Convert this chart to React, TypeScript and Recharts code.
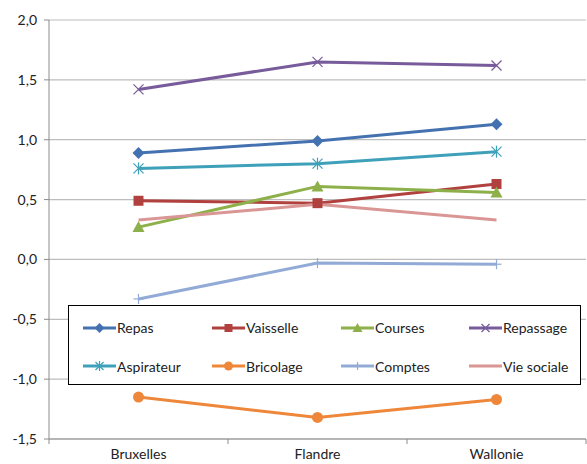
import React from 'react';
import { CartesianGrid, Line, LineChart, XAxis, YAxis } from 'recharts';

document.body.style.margin = '0';

const regions = ['Bruxelles', 'Flandre', 'Wallonie'];
const repas = [0.89, 0.99, 1.13];
const vaisselle = [0.49, 0.47, 0.63];
const courses = [0.27, 0.61, 0.56];
const repassage = [1.42, 1.65, 1.62];
const aspirateur = [0.76, 0.8, 0.9];
const bricolage = [-1.15, -1.32, -1.17];
const comptes = [-0.33, -0.03, -0.04];
const vieSociale = [0.33, 0.46, 0.33];
const yTicks = [-1.5, -1, -0.5, 0, 0.5, 1, 1.5, 2];

const FONT = 'Lato, "Open Sans", sans-serif';
const HALF_BAND = 89.5;

type Shape = 'diamond' | 'square' | 'triangle' | 'x' | 'star' | 'circle' | 'plus' | 'none';

const series: { key: string; name: string; color: string; shape: Shape; values: number[] }[] = [
  { key: 'repas', name: 'Repas', color: '#4472B0', shape: 'diamond', values: repas },
  { key: 'vaisselle', name: 'Vaisselle', color: '#B0413E', shape: 'square', values: vaisselle },
  { key: 'courses', name: 'Courses', color: '#8DB04A', shape: 'triangle', values: courses },
  { key: 'repassage', name: 'Repassage', color: '#775B9A', shape: 'x', values: repassage },
  { key: 'aspirateur', name: 'Aspirateur', color: '#3FA0BA', shape: 'star', values: aspirateur },
  { key: 'bricolage', name: 'Bricolage', color: '#EE8739', shape: 'circle', values: bricolage },
  { key: 'comptes', name: 'Comptes', color: '#92ABD6', shape: 'plus', values: comptes },
  { key: 'vieSociale', name: 'Vie sociale', color: '#D99694', shape: 'none', values: vieSociale },
];

const data = regions.map((r, i) => {
  const row: Record<string, string | number> = { region: r };
  series.forEach((s) => (row[s.key] = s.values[i]));
  return row;
});

function Marker({ shape, color, cx, cy, r = 5 }: { shape: Shape; color: string; cx: number; cy: number; r?: number }) {
  switch (shape) {
    case 'diamond':
      return <polygon points={`${cx},${cy - r - 1} ${cx + r + 1},${cy} ${cx},${cy + r + 1} ${cx - r - 1},${cy}`} fill={color} />;
    case 'square':
      return <rect x={cx - r} y={cy - r} width={r * 2} height={r * 2} fill={color} />;
    case 'triangle':
      return <polygon points={`${cx},${cy - r - 1} ${cx + r + 1},${cy + r} ${cx - r - 1},${cy + r}`} fill={color} />;
    case 'x':
      return (
        <g stroke={color} strokeWidth={1.2}>
          <line x1={cx - r} y1={cy - r} x2={cx + r} y2={cy + r} />
          <line x1={cx - r} y1={cy + r} x2={cx + r} y2={cy - r} />
        </g>
      );
    case 'star':
      return (
        <g stroke={color} strokeWidth={1.2}>
          <line x1={cx - r} y1={cy - r} x2={cx + r} y2={cy + r} />
          <line x1={cx - r} y1={cy + r} x2={cx + r} y2={cy - r} />
          <line x1={cx} y1={cy - r - 1} x2={cx} y2={cy + r + 1} />
        </g>
      );
    case 'circle':
      return <circle cx={cx} cy={cy} r={r + 0.5} fill={color} />;
    case 'plus':
      return (
        <g stroke={color} strokeWidth={1.2}>
          <line x1={cx - r} y1={cy} x2={cx + r} y2={cy} />
          <line x1={cx} y1={cy - r} x2={cx} y2={cy + r} />
        </g>
      );
    default:
      return null;
  }
}

function XTick(props: any) {
  const { x, y, payload, index } = props;
  return (
    <g>
      <line x1={x - HALF_BAND} y1={y} x2={x - HALF_BAND} y2={y + 5} stroke="#8c8c8c" />
      {index === regions.length - 1 && (
        <line x1={x + HALF_BAND} y1={y} x2={x + HALF_BAND} y2={y + 5} stroke="#8c8c8c" />
      )}
      <text x={x} y={y + 20} textAnchor="middle" fontSize={14} fill="#222" fontFamily={FONT}>
        {payload.value}
      </text>
    </g>
  );
}

function LegendBox() {
  return (
    <div
      style={{
        position: 'absolute',
        left: 68,
        top: 305,
        border: '1px solid #000',
        background: '#fff',
        boxSizing: 'border-box',
        width: 513,
        height: 80,
        display: 'grid',
        gridTemplateColumns: '129px 129px 128px 126px',
        gridTemplateRows: '41px 36px',
        padding: '1px 0 0 14px',
        fontFamily: FONT,
        fontSize: 14,
        color: '#222',
      }}
    >
      {series.map((s) => (
        <div key={s.key} style={{ display: 'flex', alignItems: 'center' }}>
          <svg width={33} height={12} style={{ marginRight: 1 }}>
            <line x1={0} y1={6} x2={33} y2={6} stroke={s.color} strokeWidth={3} />
            <Marker shape={s.shape} color={s.color} cx={16.5} cy={6} r={4} />
          </svg>
          <span>{s.name}</span>
        </div>
      ))}
    </div>
  );
}

export default function App() {
  return (
    <div style={{ position: 'relative', width: 587, height: 464 }}>
      <LineChart width={587} height={464} data={data} margin={{ top: 20, right: 1, left: 0, bottom: 0 }}>
        <CartesianGrid vertical={false} stroke="#bdbdbd" strokeWidth={1.2} />
        <XAxis
          dataKey="region"
          height={25}
          padding={{ left: HALF_BAND, right: HALF_BAND }}
          axisLine={{ stroke: '#8c8c8c' }}
          tickLine={false}
          tickSize={0}
          tickMargin={0}
          tick={<XTick />}
          interval={0}
        />
        <YAxis
          width={49}
          domain={[-1.5, 2]}
          ticks={yTicks}
          axisLine={{ stroke: '#8c8c8c' }}
          tickLine={{ stroke: '#8c8c8c' }}
          tickSize={5}
          tickMargin={7}
          tick={{ fill: '#222', fontSize: 14, fontFamily: FONT }}
          tickFormatter={(v: number) => v.toFixed(1).replace('.', ',')}
        />
        {series.map((s) => (
          <Line
            key={s.key}
            dataKey={s.key}
            name={s.name}
            stroke={s.color}
            strokeWidth={3}
            isAnimationActive={false}
            dot={(p: any) => (
              <Marker key={`${s.key}-${p.index}`} shape={s.shape} color={s.color} cx={p.cx} cy={p.cy} />
            )}
            activeDot={false}
          />
        ))}
      </LineChart>
      <LegendBox />
    </div>
  );
}
